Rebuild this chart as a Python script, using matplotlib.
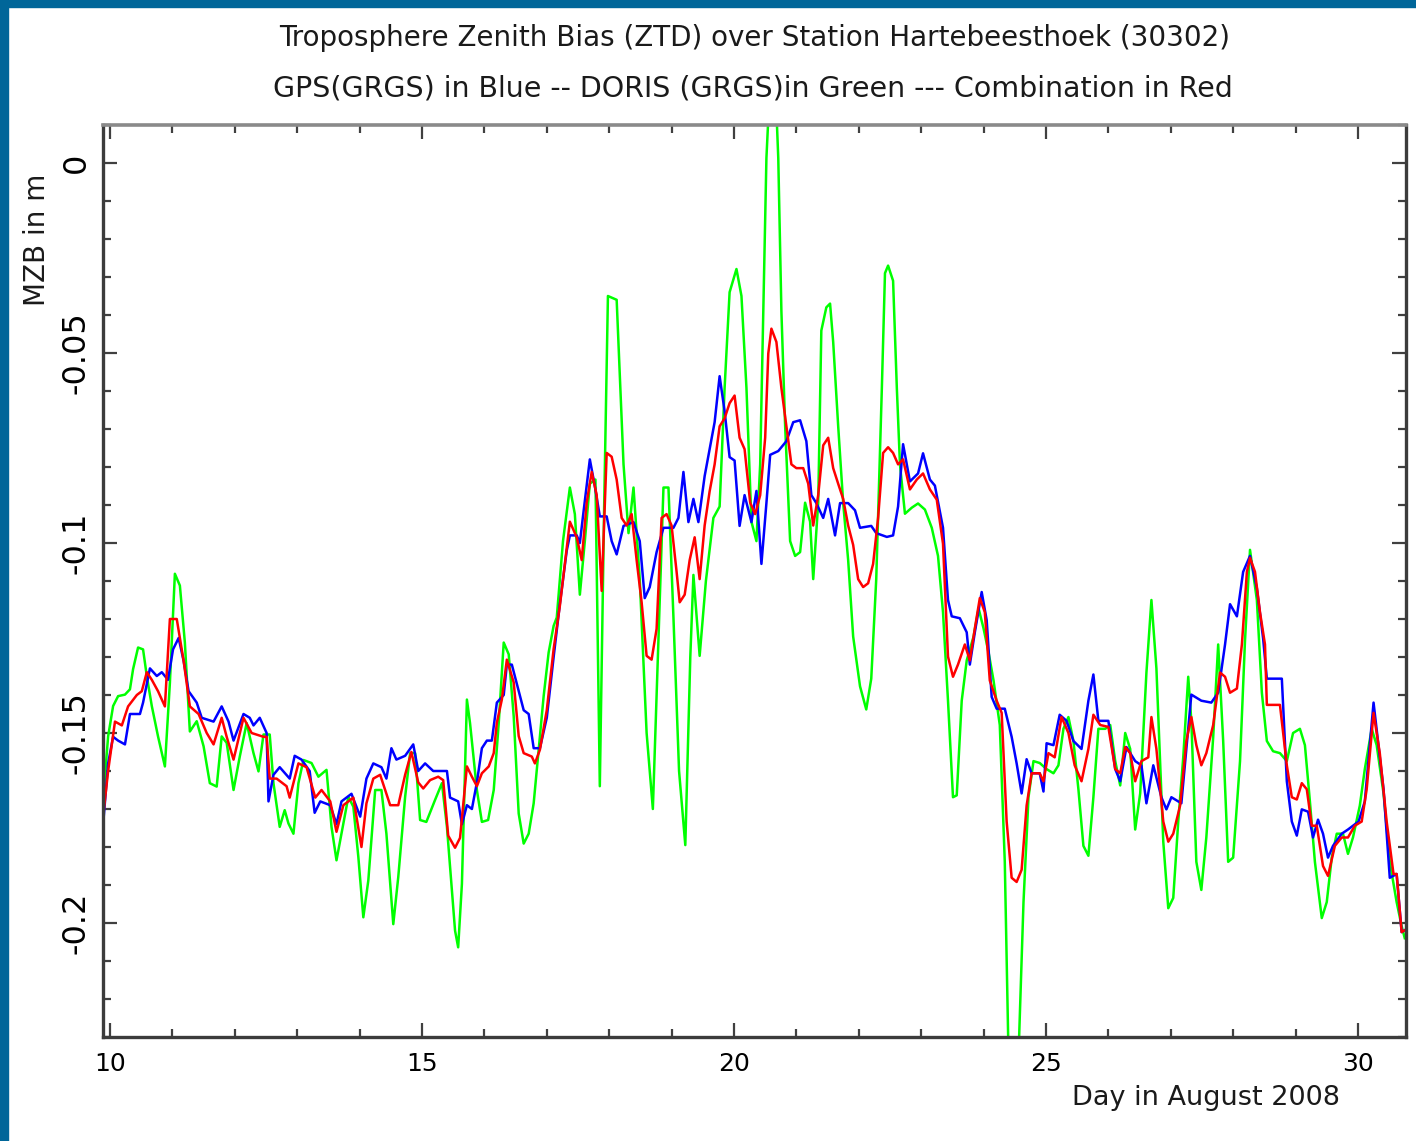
import numpy as np
import matplotlib
matplotlib.use("Agg")
import matplotlib.pyplot as plt
from matplotlib.ticker import MultipleLocator, FuncFormatter
from matplotlib.patches import Rectangle

# GPS (GRGS) - blue
gps_day = [9.89, 9.97, 10.05, 10.13, 10.24, 10.32, 10.48, 10.53, 10.64, 10.75, 10.83, 10.93,
           11.01, 11.10, 11.18, 11.26, 11.39, 11.47, 11.66, 11.79, 11.90, 11.98, 12.14, 12.24,
           12.30, 12.40, 12.51, 12.54, 12.62, 12.72, 12.88, 12.96, 13.07, 13.20, 13.28, 13.37,
           13.53, 13.63, 13.71, 13.87, 14.01, 14.11, 14.22, 14.35, 14.43, 14.51, 14.59, 14.73,
           14.86, 14.94, 15.05, 15.18, 15.32, 15.40, 15.45, 15.58, 15.64, 15.72, 15.80, 15.88,
           15.96, 16.04, 16.12, 16.20, 16.31, 16.36, 16.44, 16.55, 16.63, 16.71, 16.79, 16.89,
           17.00, 17.11, 17.21, 17.32, 17.37, 17.48, 17.53, 17.58, 17.69, 17.77, 17.85, 17.96,
           18.04, 18.12, 18.23, 18.39, 18.49, 18.57, 18.65, 18.76, 18.87, 19.03, 19.11, 19.19,
           19.27, 19.35, 19.43, 19.53, 19.61, 19.69, 19.77, 19.85, 19.93, 20.01, 20.09, 20.17,
           20.28, 20.36, 20.44, 20.52, 20.58, 20.71, 20.84, 20.95, 21.06, 21.16, 21.24, 21.32,
           21.43, 21.51, 21.62, 21.70, 21.83, 21.94, 22.02, 22.20, 22.28, 22.45, 22.55, 22.63,
           22.71, 22.82, 22.95, 23.03, 23.14, 23.22, 23.35, 23.43, 23.49, 23.62, 23.73, 23.78,
           23.86, 23.97, 24.05, 24.13, 24.21, 24.34, 24.45, 24.53, 24.61, 24.69, 24.77, 24.90,
           24.96, 25.01, 25.12, 25.22, 25.33, 25.44, 25.57, 25.68, 25.76, 25.84, 26.00, 26.11,
           26.19, 26.29, 26.43, 26.53, 26.61, 26.72, 26.85, 26.93, 27.01, 27.17, 27.33, 27.49,
           27.65, 27.76, 27.87, 27.95, 28.06, 28.16, 28.27, 28.38, 28.48, 28.54, 28.78, 28.86,
           28.94, 29.02, 29.10, 29.20, 29.28, 29.36, 29.44, 29.52, 29.60, 29.74, 29.84, 30.01,
           30.11, 30.25, 30.41, 30.51, 30.62, 30.70, 30.75]
gps_mzb = [-0.174, -0.158, -0.151, -0.152, -0.153, -0.145, -0.145, -0.142, -0.133, -0.135, -0.134, -0.136,
           -0.128, -0.125, -0.131, -0.139, -0.142, -0.146, -0.147, -0.143, -0.147, -0.152, -0.145, -0.146,
           -0.148, -0.146, -0.150, -0.168, -0.161, -0.159, -0.162, -0.156, -0.157, -0.160, -0.171, -0.168,
           -0.169, -0.174, -0.168, -0.166, -0.172, -0.162, -0.158, -0.159, -0.162, -0.154, -0.157, -0.156,
           -0.153, -0.160, -0.158, -0.160, -0.160, -0.160, -0.167, -0.168, -0.174, -0.169, -0.170, -0.163,
           -0.154, -0.152, -0.152, -0.142, -0.140, -0.132, -0.132, -0.139, -0.144, -0.145, -0.154, -0.154,
           -0.146, -0.130, -0.116, -0.102, -0.098, -0.098, -0.100, -0.093, -0.078, -0.085, -0.093, -0.093,
           -0.0995, -0.103, -0.0955, -0.0945, -0.0995, -0.1145, -0.1116, -0.1024, -0.096, -0.096, -0.0934, -0.0813,
           -0.0945, -0.0884, -0.0945, -0.0824, -0.0753, -0.0682, -0.0561, -0.0653, -0.0774, -0.0783, -0.0955, -0.0874,
           -0.0945, -0.0863, -0.1055, -0.0895, -0.0768, -0.0758, -0.0732, -0.0682, -0.0677, -0.0732, -0.0874, -0.0895,
           -0.0934, -0.0884, -0.098, -0.0895, -0.0895, -0.0914, -0.096, -0.0955, -0.0974, -0.0984, -0.098, -0.0904,
           -0.074, -0.0838, -0.0817, -0.0764, -0.0833, -0.0849, -0.096, -0.115, -0.1193, -0.1198, -0.1235, -0.132,
           -0.1235, -0.1129, -0.1203, -0.1405, -0.1436, -0.1436, -0.151, -0.158, -0.1659, -0.1569, -0.1606, -0.1606,
           -0.1654, -0.1527, -0.1532, -0.1452, -0.1468, -0.1521, -0.1542, -0.1415, -0.1346, -0.1468, -0.1468, -0.1595,
           -0.1627, -0.1537, -0.1574, -0.1585, -0.1685, -0.1585, -0.1669, -0.1701, -0.1669, -0.1685, -0.1399, -0.1415,
           -0.142, -0.1394, -0.1267, -0.1161, -0.1193, -0.1076, -0.1034, -0.1119, -0.1251, -0.1357, -0.1357, -0.1627,
           -0.1733, -0.177, -0.1701, -0.1707, -0.1775, -0.1728, -0.1765, -0.1828, -0.1797, -0.1765, -0.1754, -0.1733,
           -0.168, -0.142, -0.1648, -0.1881, -0.1871, -0.2024, -0.2019]

# DORIS (GRGS) - green
doris_day = [9.89, 9.97, 10.05, 10.13, 10.24, 10.32, 10.37, 10.45, 10.53, 10.59, 10.67, 10.77,
             10.88, 10.96, 11.04, 11.12, 11.20, 11.28, 11.39, 11.50, 11.60, 11.71, 11.79, 11.87,
             11.98, 12.08, 12.19, 12.30, 12.38, 12.46, 12.56, 12.62, 12.72, 12.80, 12.86, 12.94,
             13.02, 13.10, 13.23, 13.34, 13.47, 13.55, 13.63, 13.71, 13.82, 13.90, 13.98, 14.06,
             14.14, 14.25, 14.35, 14.43, 14.54, 14.62, 14.73, 14.81, 14.89, 14.97, 15.07, 15.21,
             15.32, 15.40, 15.45, 15.53, 15.58, 15.64, 15.72, 15.77, 15.88, 15.96, 16.06, 16.15,
             16.23, 16.31, 16.39, 16.47, 16.55, 16.63, 16.71, 16.79, 16.87, 16.95, 17.03, 17.11,
             17.16, 17.26, 17.37, 17.45, 17.53, 17.61, 17.69, 17.78, 17.85, 17.92, 17.98, 18.12,
             18.23, 18.31, 18.39, 18.49, 18.60, 18.70, 18.80, 18.87, 18.95, 19.03, 19.12, 19.22,
             19.30, 19.35, 19.45, 19.55, 19.67, 19.77, 19.85, 19.93, 20.04, 20.12, 20.20, 20.28,
             20.36, 20.42, 20.47, 20.52, 20.58, 20.66, 20.71, 20.76, 20.82, 20.90, 20.98, 21.06,
             21.14, 21.22, 21.27, 21.35, 21.40, 21.48, 21.54, 21.59, 21.67, 21.75, 21.83, 21.91,
             22.02, 22.12, 22.20, 22.28, 22.37, 22.42, 22.47, 22.55, 22.61, 22.66, 22.74, 22.85,
             22.95, 23.06, 23.17, 23.27, 23.35, 23.43, 23.51, 23.57, 23.65, 23.73, 23.84, 23.92,
             24.00, 24.08, 24.16, 24.26, 24.34, 24.40, 24.48, 24.56, 24.64, 24.72, 24.80, 24.90,
             25.01, 25.12, 25.20, 25.28, 25.36, 25.44, 25.52, 25.60, 25.68, 25.76, 25.84, 25.95,
             26.03, 26.11, 26.19, 26.27, 26.35, 26.43, 26.51, 26.61, 26.69, 26.77, 26.88, 26.96,
             27.04, 27.12, 27.20, 27.28, 27.33, 27.41, 27.49, 27.57, 27.68, 27.76, 27.84, 27.92,
             28.00, 28.11, 28.19, 28.27, 28.38, 28.46, 28.54, 28.64, 28.75, 28.86, 28.96, 29.07,
             29.15, 29.23, 29.31, 29.42, 29.50, 29.58, 29.66, 29.76, 29.84, 29.92, 30.03, 30.11,
             30.22, 30.30, 30.41, 30.51, 30.62, 30.70, 30.75]
doris_mzb = [-0.1676, -0.1509, -0.1429, -0.1403, -0.1399, -0.1385, -0.1332, -0.1275, -0.128, -0.135, -0.1429, -0.1509,
             -0.1588, -0.1368, -0.1081, -0.1112, -0.1262, -0.1496, -0.1469, -0.1535, -0.1632, -0.1641, -0.1509, -0.1526,
             -0.165, -0.1562, -0.1474, -0.1553, -0.1601, -0.1504, -0.1504, -0.1632, -0.1747, -0.1703, -0.1738, -0.1765,
             -0.1632, -0.1571, -0.1579, -0.1615, -0.1597, -0.1747, -0.1835, -0.1765, -0.1668, -0.1694, -0.1826, -0.1985,
             -0.1888, -0.165, -0.165, -0.1765, -0.2003, -0.1879, -0.1668, -0.1553, -0.1553, -0.1729, -0.1734, -0.1676,
             -0.1632, -0.1747, -0.1853, -0.202, -0.2064, -0.1897, -0.1412, -0.1474, -0.165, -0.1734, -0.1729, -0.165,
             -0.1474, -0.1262, -0.1293, -0.1456, -0.1712, -0.1791, -0.1765, -0.1685, -0.1544, -0.1403, -0.1288, -0.1218,
             -0.1196, -0.0995, -0.0854, -0.0924, -0.1136, -0.0995, -0.0844, -0.0833, -0.164, -0.090, -0.035, -0.036,
             -0.0793, -0.0974, -0.0854, -0.1095, -0.150, -0.170, -0.120, -0.0854, -0.0854, -0.1196, -0.160, -0.1795,
             -0.130, -0.1084, -0.1297, -0.110, -0.0934, -0.0904, -0.0592, -0.034, -0.0279, -0.035, -0.0592, -0.0944,
             -0.0995, -0.0793, -0.039, 0.0013, 0.022, 0.022, 0.0013, -0.039, -0.0692, -0.0995, -0.1034, -0.1024,
             -0.0894, -0.0944, -0.1095, -0.0894, -0.0441, -0.038, -0.037, -0.0471, -0.0692, -0.0894, -0.1045, -0.1246,
             -0.1377, -0.1438, -0.1357, -0.1095, -0.0592, -0.029, -0.027, -0.031, -0.0592, -0.0793, -0.0923, -0.0907,
             -0.0896, -0.0912, -0.096, -0.1034, -0.1182, -0.1415, -0.1669, -0.1664, -0.1415, -0.1309, -0.1246, -0.1172,
             -0.1225, -0.1288, -0.1362, -0.1479, -0.1839, -0.235, -0.248, -0.235, -0.1945, -0.1669, -0.1574, -0.1579,
             -0.1595, -0.1606, -0.1585, -0.1489, -0.1458, -0.1521, -0.1648, -0.1797, -0.1823, -0.1669, -0.1489, -0.1489,
             -0.1479, -0.1574, -0.1638, -0.150, -0.1542, -0.1754, -0.1659, -0.1341, -0.115, -0.133, -0.1786, -0.1961,
             -0.1934, -0.1733, -0.1564, -0.1352, -0.1468, -0.1839, -0.1913, -0.1775, -0.1511, -0.1267, -0.1521, -0.1839,
             -0.1828, -0.1574, -0.1256, -0.1018, -0.115, -0.1394, -0.1521, -0.1548, -0.1553, -0.1574, -0.150, -0.1489,
             -0.1532, -0.168, -0.1839, -0.1987, -0.1945, -0.1828, -0.1765, -0.1765, -0.1818, -0.1775, -0.1691, -0.1595,
             -0.1489, -0.1532, -0.1659, -0.1839, -0.1945, -0.2008, -0.204]

# Combination - red
comb_day = [9.89, 9.97, 10.08, 10.19, 10.29, 10.43, 10.51, 10.59, 10.67, 10.77, 10.88, 10.96,
            11.07, 11.18, 11.28, 11.42, 11.55, 11.66, 11.79, 11.87, 11.98, 12.14, 12.27, 12.46,
            12.51, 12.56, 12.67, 12.83, 12.88, 13.02, 13.15, 13.29, 13.39, 13.53, 13.63, 13.74,
            13.90, 14.03, 14.11, 14.22, 14.33, 14.49, 14.62, 14.73, 14.83, 14.94, 15.02, 15.13,
            15.26, 15.34, 15.42, 15.53, 15.61, 15.72, 15.80, 15.88, 15.96, 16.07, 16.15, 16.20,
            16.28, 16.36, 16.47, 16.55, 16.63, 16.76, 16.81, 16.89, 17.00, 17.11, 17.21, 17.37,
            17.48, 17.56, 17.64, 17.72, 17.80, 17.88, 17.96, 18.04, 18.12, 18.20, 18.28, 18.36,
            18.44, 18.52, 18.60, 18.68, 18.76, 18.84, 18.92, 19.00, 19.08, 19.13, 19.21, 19.29,
            19.37, 19.45, 19.53, 19.61, 19.69, 19.77, 19.85, 19.93, 20.01, 20.09, 20.17, 20.26,
            20.34, 20.42, 20.50, 20.55, 20.60, 20.68, 20.76, 20.84, 20.92, 21.00, 21.11, 21.19,
            21.27, 21.35, 21.43, 21.51, 21.59, 21.67, 21.75, 21.83, 21.91, 21.99, 22.07, 22.15,
            22.23, 22.31, 22.39, 22.47, 22.55, 22.63, 22.71, 22.82, 22.93, 23.03, 23.14, 23.25,
            23.35, 23.43, 23.51, 23.59, 23.70, 23.78, 23.86, 23.94, 24.02, 24.10, 24.21, 24.29,
            24.37, 24.45, 24.53, 24.61, 24.69, 24.77, 24.90, 24.96, 25.04, 25.14, 25.25, 25.36,
            25.46, 25.57, 25.68, 25.76, 25.87, 26.00, 26.11, 26.19, 26.27, 26.35, 26.43, 26.53,
            26.64, 26.69, 26.77, 26.88, 26.96, 27.04, 27.15, 27.25, 27.33, 27.41, 27.49, 27.57,
            27.68, 27.79, 27.87, 27.95, 28.06, 28.14, 28.22, 28.27, 28.35, 28.43, 28.51, 28.54,
            28.75, 28.86, 28.94, 29.02, 29.10, 29.18, 29.26, 29.34, 29.44, 29.52, 29.63, 29.74,
            29.84, 29.95, 30.06, 30.14, 30.25, 30.35, 30.46, 30.57, 30.62, 30.70, 30.75]
comb_mzb = [-0.172, -0.160, -0.147, -0.148, -0.143, -0.140, -0.139, -0.134, -0.136, -0.139, -0.143, -0.120,
            -0.120, -0.131, -0.143, -0.145, -0.150, -0.153, -0.146, -0.151, -0.157, -0.146, -0.150, -0.151,
            -0.151, -0.162, -0.162, -0.164, -0.167, -0.158, -0.159, -0.167, -0.165, -0.168, -0.176, -0.169,
            -0.167, -0.180, -0.1685, -0.162, -0.161, -0.169, -0.169, -0.161, -0.155, -0.163, -0.1646, -0.1624,
            -0.1615, -0.1624, -0.177, -0.1802, -0.1776, -0.1588, -0.1615, -0.164, -0.1606, -0.1588, -0.1553, -0.1473,
            -0.1412, -0.1307, -0.1367, -0.1508, -0.1553, -0.1562, -0.158, -0.1544, -0.144, -0.1279, -0.1165, -0.0944,
            -0.0985, -0.1045, -0.0894, -0.0813, -0.0874, -0.1126, -0.0763, -0.0773, -0.0833, -0.0934, -0.0954, -0.0924,
            -0.1045, -0.1156, -0.1297, -0.1307, -0.1226, -0.0934, -0.0924, -0.0954, -0.1075, -0.1156, -0.1136, -0.1045,
            -0.0985, -0.1095, -0.0954, -0.0864, -0.0793, -0.0693, -0.0672, -0.0632, -0.0612, -0.0723, -0.0753, -0.0894,
            -0.0924, -0.0874, -0.0723, -0.0501, -0.0436, -0.0471, -0.0592, -0.0693, -0.0793, -0.0803, -0.0803, -0.0844,
            -0.0954, -0.0874, -0.0743, -0.0723, -0.0803, -0.0844, -0.0884, -0.0954, -0.1005, -0.1095, -0.1116, -0.1106,
            -0.1055, -0.0934, -0.0763, -0.0748, -0.0763, -0.0793, -0.078, -0.0859, -0.0833, -0.0817, -0.0859, -0.0886,
            -0.1002, -0.1299, -0.1352, -0.132, -0.1267, -0.1309, -0.1225, -0.1145, -0.1182, -0.1362, -0.1415, -0.1447,
            -0.1733, -0.1881, -0.1892, -0.186, -0.1691, -0.1606, -0.1606, -0.1627, -0.1553, -0.1564, -0.1458, -0.150,
            -0.1585, -0.1627, -0.1542, -0.1452, -0.1479, -0.1484, -0.1595, -0.1606, -0.1537, -0.1553, -0.1627, -0.1574,
            -0.1564, -0.1458, -0.1542, -0.1733, -0.1786, -0.1765, -0.1691, -0.1521, -0.1458, -0.1532, -0.1585, -0.1553,
            -0.1479, -0.1341, -0.1352, -0.1394, -0.1383, -0.1267, -0.1076, -0.1039, -0.1076, -0.1182, -0.1267, -0.1426,
            -0.1426, -0.1585, -0.1669, -0.1675, -0.1632, -0.1648, -0.1744, -0.1744, -0.185, -0.1876, -0.1797, -0.1775,
            -0.1775, -0.1744, -0.1733, -0.1648, -0.1447, -0.1553, -0.1733, -0.1871, -0.1871, -0.2024, -0.2019]

title1 = "Troposphere Zenith Bias (ZTD) over Station Hartebeesthoek (30302)"
title2 = "GPS(GRGS) in Blue -- DORIS (GRGS)in Green --- Combination in Red"

fig = plt.figure(figsize=(14.16, 11.41), dpi=100)
ax = fig.add_axes([103/1416, 1 - 1037/1141, 1303/1416, 912/1141])

ax.plot(doris_day, doris_mzb, color="#00ff00", lw=1.8)
ax.plot(gps_day, gps_mzb, color="#0000ff", lw=1.8)
ax.plot(comb_day, comb_mzb, color="#ff0000", lw=1.8)

ax.set_xlim(9.888, 30.77)
ax.set_ylim(-0.23, 0.01)

ax.xaxis.set_major_locator(MultipleLocator(5))
ax.xaxis.set_minor_locator(MultipleLocator(1))
ax.yaxis.set_major_locator(MultipleLocator(0.05))
ax.yaxis.set_minor_locator(MultipleLocator(0.01))
ax.yaxis.set_major_formatter(FuncFormatter(lambda v, p: "0" if abs(v) < 1e-9 else f"{v:g}"))

ax.tick_params(which="both", direction="in", top=True, right=True, color="#404040", width=1.6)
ax.tick_params(which="major", length=10)
ax.tick_params(which="minor", length=5.5)
ax.tick_params(axis="x", labelsize=18, pad=11)
ax.tick_params(axis="y", labelsize=23, pad=8)
for lab in ax.get_yticklabels():
    lab.set_rotation(90)
    lab.set_va("center")

for side in ["left", "bottom", "right"]:
    ax.spines[side].set_color("#3c3c3c")
    ax.spines[side].set_linewidth(2.4)
ax.spines["top"].set_color("#8a8a8a")
ax.spines["top"].set_linewidth(2.6)

fig.text(755/1416, 1 - 38/1141, title1, ha="center", va="center", fontsize=20, color="#1a1a1a")
fig.text(753/1416, 1 - 89/1141, title2, ha="center", va="center", fontsize=20.5, color="#1a1a1a")
fig.text(1340/1416, 1 - 1098/1141, "Day in August 2008", ha="right", va="center", fontsize=19.5, color="#1a1a1a")
fig.text(37/1416, 1 - 240/1141, "MZB in m", rotation=90, ha="center", va="center", fontsize=20, color="#1a1a1a")

# blue frame on the left and top edges
fig.patches.append(Rectangle((0, 0), 8/1416, 1, transform=fig.transFigure, color="#006699", zorder=10))
fig.patches.append(Rectangle((0, 1 - 7/1141), 1, 7/1141, transform=fig.transFigure, color="#006699", zorder=10))

fig.savefig("out.png", dpi=100)
